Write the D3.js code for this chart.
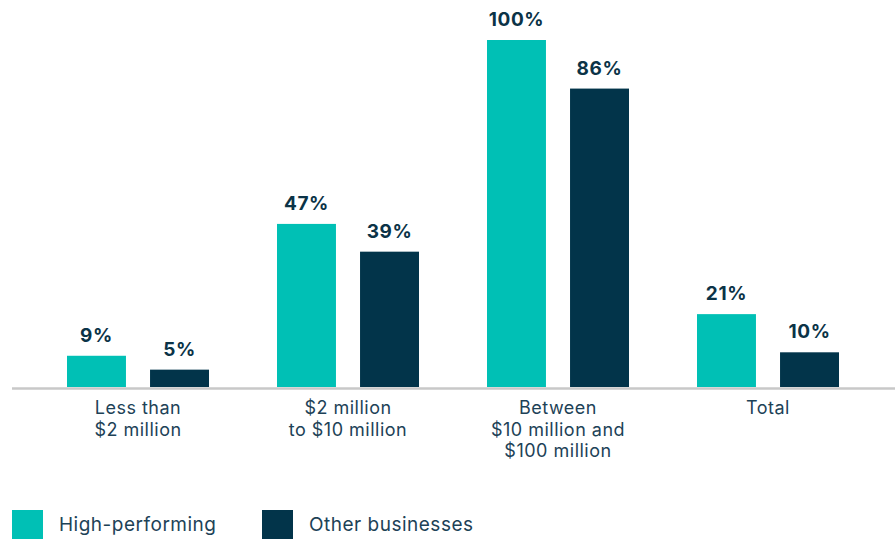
<!DOCTYPE html>
<html>
<head>
<meta charset="utf-8">
<script src="https://cdn.jsdelivr.net/npm/d3@7"></script>
<style>
  body { margin: 0; background: #fff; }
  svg { display: block; font-family: Inter, "Open Sans", sans-serif; }
</style>
</head>
<body>
<div id="chart"></div>
<script>
// data
let categories = [
  ["Less than", "$2 million"],
  ["$2 million", "to $10 million"],
  ["Between", "$10 million and", "$100 million"],
  ["Total"]
];
let catKeys = ["lt2", "2to10", "10to100", "total"];
let seriesNames = ["High-performing", "Other businesses"];
let highPerforming = [9, 47, 100, 21];
let otherBusinesses = [5, 39, 86, 10];
let colors = ["#00c0b5", "#02344a"];

let width = 895, height = 539;
let baseline = 387;

let svg = d3.select("#chart").append("svg")
  .attr("width", width)
  .attr("height", height);

let x0 = d3.scaleBand()
  .domain(catKeys)
  .range([33, 873]);

let x1 = d3.scaleBand()
  .domain(seriesNames)
  .range([34, 176])
  .paddingInner(0.29);

let y = d3.scaleLinear()
  .domain([0, 100])
  .range([baseline, 40]);

let rows = [];
catKeys.forEach(function(k, i) {
  rows.push({key: k, series: seriesNames[0], value: highPerforming[i], color: colors[0]});
  rows.push({key: k, series: seriesNames[1], value: otherBusinesses[i], color: colors[1]});
});

// bars
svg.selectAll("rect.bar").data(rows).enter()
  .append("rect")
  .attr("class", "bar")
  .attr("x", function(d) { return x0(d.key) + x1(d.series); })
  .attr("y", function(d) { return y(d.value); })
  .attr("width", x1.bandwidth())
  .attr("height", function(d) { return baseline - y(d.value); })
  .attr("fill", function(d) { return d.color; });

// value labels
svg.selectAll("text.val").data(rows).enter()
  .append("text")
  .attr("class", "val")
  .attr("x", function(d) { return x0(d.key) + x1(d.series) + x1.bandwidth() / 2; })
  .attr("y", function(d) { return y(d.value) - 14; })
  .attr("text-anchor", "middle")
  .attr("fill", "#0b3347")
  .style("font-size", "19px")
  .style("font-weight", "700")
  .style("letter-spacing", "0.6px")
  .text(function(d) { return d.value + "%"; });

// axis line
svg.append("line")
  .attr("x1", 12).attr("x2", width)
  .attr("y1", baseline + 1.5).attr("y2", baseline + 1.5)
  .attr("stroke", "#c8c8c8")
  .attr("stroke-width", 2.5);

// category labels
catKeys.forEach(function(k, i) {
  let t = svg.append("text")
    .attr("text-anchor", "middle")
    .attr("fill", "#1d4257")
    .style("font-size", "18px")
    .style("letter-spacing", "0.5px");
  categories[i].forEach(function(line, j) {
    t.append("tspan")
      .attr("x", x0(k) + x0.bandwidth() / 2)
      .attr("y", 414 + j * 21.5)
      .text(line);
  });
});

// legend
let legendX = [12, 262];
let lg = svg.selectAll("g.legend").data(seriesNames).enter()
  .append("g")
  .attr("class", "legend")
  .attr("transform", function(d, i) { return "translate(" + legendX[i] + ",510)"; });

lg.append("rect")
  .attr("width", 31).attr("height", 29)
  .attr("fill", function(d, i) { return colors[i]; });

lg.append("text")
  .attr("x", 47).attr("y", 21)
  .attr("fill", "#1d4257")
  .style("font-size", "19px")
  .style("letter-spacing", "0.5px")
  .text(function(d) { return d; });
</script>
</body>
</html>
